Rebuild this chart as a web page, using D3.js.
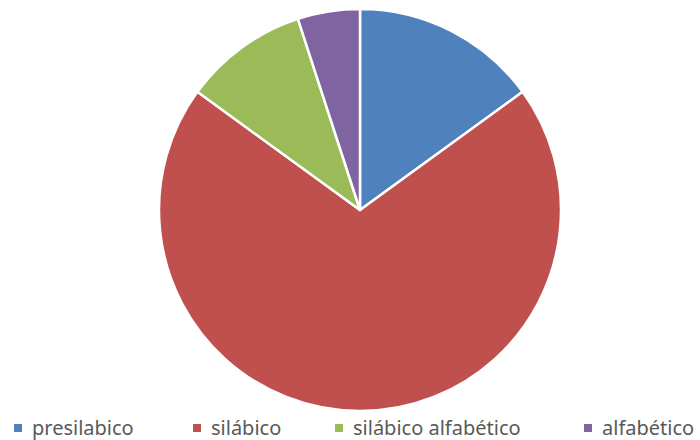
<!DOCTYPE html>
<html>
<head>
<meta charset="utf-8">
<script src="https://cdn.jsdelivr.net/npm/d3@7"></script>
<style>
body{margin:0;background:#fff;}
</style>
</head>
<body>
<svg id="chart"></svg>
<script>
var categories = ["presilabico","silábico","silábico alfabético","alfabético"]
var values = [15,70,10,5]
var colors = ["#4F81BD","#C0504D","#9BBB59","#8064A2"]

var screen = {width:700,height:440}
var svg = d3.select("#chart")
    .attr("width",screen.width)
    .attr("height",screen.height)

var radius = 201
var center = {x:360,y:210}

var pie = d3.pie().sort(null).value(function(d){return d.value})
var arc = d3.arc().innerRadius(0).outerRadius(radius)

var pieData = categories.map(function(c,i){return {name:c,value:values[i]}})

var colorScale = d3.scaleOrdinal().domain(categories).range(colors)

var target = svg.append("g")
    .attr("transform","translate("+center.x+","+center.y+")")

target.selectAll("path")
    .data(pie(pieData))
    .enter()
    .append("path")
    .attr("d",arc)
    .attr("fill",function(d){return colorScale(d.data.name)})
    .attr("stroke","#fff")
    .attr("stroke-width",2.5)
    .attr("stroke-linejoin","round")

// legend
var legendX = [14,193,335,584]
var legend = svg.append("g")
legend.selectAll("g")
    .data(categories)
    .enter()
    .append("g")
    .attr("transform",function(d,i){return "translate("+legendX[i]+",428)"})
    .each(function(d){
        var g = d3.select(this)
        g.append("rect")
            .attr("x",0).attr("y",-4)
            .attr("width",8).attr("height",8)
            .attr("fill",colorScale(d))
        g.append("text")
            .attr("x",18).attr("y",7)
            .attr("font-family","Noto Sans, sans-serif")
            .attr("font-size",20)
            .attr("fill","#595959")
            .text(d)
    })
</script>
</body>
</html>
